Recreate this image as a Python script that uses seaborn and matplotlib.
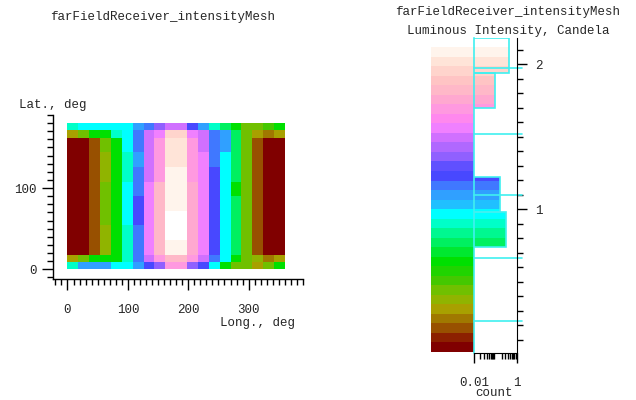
import numpy as np
import matplotlib
matplotlib.use("Agg")
import matplotlib.pyplot as plt
import seaborn as sns
from matplotlib.colors import ListedColormap, BoundaryNorm
from matplotlib.ticker import FixedLocator, MultipleLocator, LogLocator, NullFormatter

# ---------------- data ----------------
lon_edges = [0, 18, 36, 54, 72, 90, 108, 126, 144, 162, 180,
             198, 216, 234, 252, 270, 288, 306, 324, 342, 360]
lat_edges = [0, 9, 18, 36, 54, 72, 90, 108, 126, 144, 162, 171, 180]

# luminous intensity (cd), one row per latitude band, from lat 0 upwards
intensity = [
    [.90, 1.10, 1.10, 1.10, .97, .97, 1.10, 1.23, 1.36, 1.69, 1.69, 1.36, 1.23, .97, .64, .44, .44, .31, .44, .64],
    [.31, .44, .64, .64, .64, .90, 1.16, 1.49, 1.69, 1.82, 1.82, 1.69, 1.49, 1.16, .97, .64, .44, .38, .24, .31],
    [.05, .05, .18, .38, .64, .90, 1.16, 1.56, 1.80, 2.08, 2.08, 1.75, 1.56, 1.23, .97, .77, .44, .18, .05, .05],
    [.05, .05, .18, .38, .64, .90, 1.16, 1.56, 1.80, 2.20, 2.20, 1.75, 1.56, 1.23, .97, .77, .44, .18, .05, .05],
    [.05, .05, .18, .44, .64, .97, 1.23, 1.56, 1.80, 2.20, 2.20, 1.75, 1.56, 1.23, .97, .77, .44, .18, .05, .05],
    [.05, .05, .18, .44, .64, .97, 1.23, 1.56, 1.80, 2.08, 2.08, 1.75, 1.56, 1.23, .97, .77, .44, .18, .05, .05],
    [.05, .05, .18, .44, .64, .97, 1.16, 1.56, 1.80, 2.08, 2.08, 1.75, 1.56, 1.23, .97, .64, .44, .18, .05, .05],
    [.05, .05, .18, .38, .64, .90, 1.16, 1.49, 1.69, 2.08, 2.08, 1.69, 1.56, 1.23, .97, .77, .44, .18, .05, .05],
    [.05, .05, .18, .38, .64, .90, 1.10, 1.49, 1.69, 2.02, 2.02, 1.69, 1.56, 1.16, .97, .77, .44, .18, .05, .05],
    [.05, .05, .18, .44, .64, .97, 1.16, 1.49, 1.69, 1.99, 1.99, 1.69, 1.49, 1.16, 1.10, .77, .44, .18, .05, .05],
    [.31, .44, .64, .64, .90, .97, 1.16, 1.49, 1.56, 1.95, 1.95, 1.56, 1.49, 1.16, 1.10, .77, .44, .31, .24, .31],
    [.90, .97, .97, .97, .97, .97, 1.10, 1.16, 1.36, 1.49, 1.49, 1.23, 1.10, .90, .77, .64, .44, .44, .50, .64],
]

# histogram of intensity (fraction of samples), only non-empty bins
hist_lo = [0.74, 0.98, 1.70, 1.94]
hist_hi = [0.98, 1.22, 1.94, 2.18]
hist_frac = [0.31, 0.17, 0.10, 0.46]
level_lines = [0.23, 0.66, 1.10, 1.52, 1.97]

vmin, vmax = 0.014, 2.117
band_colors = [
    "#800000", "#8c2000", "#985000", "#a07800", "#a8a000", "#90b400", "#70c000", "#44c800",
    "#20d400", "#00e000", "#00e830", "#00f060", "#00f890", "#00ffc8", "#00ffff", "#20c0ff",
    "#30a0ff", "#4078ff", "#4848ff", "#6050ff", "#9060ff", "#b068ff", "#d070ff", "#f080ff",
    "#ff88ee", "#ff99e0", "#ffa8d0", "#ffb8c8", "#ffc4c4", "#ffd4cc", "#ffe4d8", "#fff4ec",
]

# ---------------- style ----------------
sns.set_style("ticks")
plt.rcParams["font.family"] = ["Liberation Mono", "DejaVu Sans Mono"]
plt.rcParams["font.size"] = 9

cmap = ListedColormap(band_colors)
cmap.set_over("white")
band_edges = np.linspace(vmin, vmax, len(band_colors) + 1)
norm = BoundaryNorm(band_edges, cmap.N)
band_mid = (band_edges[:-1] + band_edges[1:]) / 2

W, H = 636, 400
fig = plt.figure(figsize=(W / 100, H / 100), dpi=100)
ax = fig.add_axes([53 / W, 1 - 279 / H, 250 / W, 164 / H])
cax = fig.add_axes([431 / W, 1 - 353 / H, 43 / W, 315 / H])
hax = fig.add_axes([474 / W, 1 - 353 / H, 43 / W, 315 / H])

# ---------------- intensity map ----------------
ax.pcolormesh(lon_edges, lat_edges, np.array(intensity), cmap=cmap, norm=norm,
              shading="flat", edgecolors="face", linewidth=0)
ax.set_xlim(-24, 390)
ax.set_ylim(-12, 190)
sns.despine(ax=ax)
ax.xaxis.set_major_locator(FixedLocator([0, 100, 200, 300]))
ax.xaxis.set_minor_locator(MultipleLocator(10))
ax.yaxis.set_major_locator(FixedLocator([0, 100]))
ax.yaxis.set_minor_locator(MultipleLocator(10))
ax.tick_params(which="major", direction="out", length=8, width=1, color="black", labelsize=9)
ax.tick_params(which="minor", direction="out", length=4, width=1, color="black")
ax.tick_params(axis="x", which="major", pad=10)
ax.tick_params(axis="y", which="major", pad=4)
for s in ("left", "bottom"):
    ax.spines[s].set_color("black")
    ax.spines[s].set_linewidth(1)

# ---------------- colour scale ----------------
cax.pcolormesh([0, 1], band_edges, band_mid.reshape(-1, 1), cmap=cmap, norm=norm,
               shading="flat", edgecolors="face", linewidth=0)
cax.set_ylim(0.007, 2.18)
cax.set_xlim(0, 1)
cax.axis("off")

# ---------------- histogram ----------------
hax.set_xscale("log")
for lo, hi, frac in zip(hist_lo, hist_hi, hist_frac):
    ye = np.unique(np.concatenate([[lo], np.clip(band_edges, lo, hi), [hi]]))
    hax.pcolormesh([1e-3, frac], ye, ((ye[:-1] + ye[1:]) / 2).reshape(-1, 1),
                   cmap=cmap, norm=norm, shading="flat", edgecolors="face", linewidth=0)
hax.barh([(l + h) / 2 for l, h in zip(hist_lo, hist_hi)], hist_frac,
         height=[h - l for l, h in zip(hist_lo, hist_hi)], left=1e-3,
         fill=False, edgecolor="#40f0f0", linewidth=1.2)
for lv in level_lines:
    hax.axhline(lv, xmin=0, xmax=1.12, color="#40f0f0", lw=1.2, clip_on=False)

hax.set_xlim(0.01, 1.05)
hax.set_ylim(0.007, 2.18)
hax.spines["top"].set_visible(False)
hax.spines["left"].set_color("#40f0f0")
hax.spines["left"].set_linewidth(1.2)
hax.spines["right"].set_color("black")
hax.spines["bottom"].set_color("black")
hax.yaxis.tick_right()
hax.yaxis.set_major_locator(FixedLocator([1, 2]))
hax.yaxis.set_minor_locator(MultipleLocator(0.1))
hax.set_yticklabels(["1", "2"])
hax.xaxis.set_major_locator(FixedLocator([0.01, 1]))
hax.xaxis.set_minor_locator(LogLocator(base=10, subs=np.arange(2, 10)))
hax.xaxis.set_minor_formatter(NullFormatter())
hax.set_xticklabels(["0.01", "1"])
hax.tick_params(which="major", direction="out", length=7, width=1, color="black", labelsize=9)
hax.tick_params(which="minor", direction="out", length=4, width=1, color="black")
hax.tick_params(axis="x", which="major", pad=10)
hax.tick_params(axis="y", which="major", pad=6)

# ---------------- texts ----------------
fig.text(163 / W, 1 - 17 / H, "farFieldReceiver_intensityMesh", ha="center", va="center", fontsize=9)
fig.text(53 / W, 1 - 105 / H, "Lat., deg", ha="center", va="center", fontsize=9)
fig.text(258 / W, 1 - 323 / H, "Long., deg", ha="center", va="center", fontsize=9)
fig.text(508 / W, 1 - 12 / H, "farFieldReceiver_intensityMesh", ha="center", va="center", fontsize=9)
fig.text(508 / W, 1 - 31 / H, "Luminous Intensity, Candela", ha="center", va="center", fontsize=9)
fig.text(494 / W, 1 - 393 / H, "count", ha="center", va="center", fontsize=9)

fig.savefig("out.png", dpi=100)
